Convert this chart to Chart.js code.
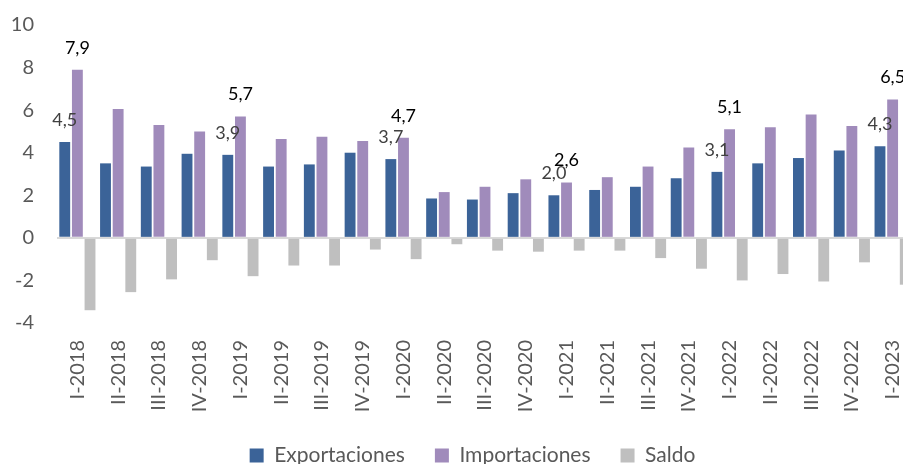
<!DOCTYPE html>
<html>
<head>
<meta charset="utf-8">
<script src="https://cdn.jsdelivr.net/npm/chart.js@4.4.0/dist/chart.umd.min.js"></script>
<style>
  html, body { margin: 0; padding: 0; background: #ffffff; overflow: hidden; }
  #wrap { width: 903px; height: 464px; overflow: hidden; position: relative; }
  #c { display: block; }
</style>
</head>
<body>
<div id="wrap"><canvas id="c" width="945" height="464"></canvas></div>
<script>
const categories = ["I-2018","II-2018","III-2018","IV-2018","I-2019","II-2019","III-2019","IV-2019",
  "I-2020","II-2020","III-2020","IV-2020","I-2021","II-2021","III-2021","IV-2021",
  "I-2022","II-2022","III-2022","IV-2022","I-2023"];
const exportaciones = [4.5, 3.5, 3.35, 3.95, 3.9, 3.35, 3.45, 4.0, 3.7, 1.85, 1.8, 2.1, 2.0, 2.25, 2.4, 2.8, 3.1, 3.5, 3.75, 4.1, 4.3];
const importaciones = [7.9, 6.05, 5.3, 5.0, 5.7, 4.65, 4.75, 4.55, 4.7, 2.15, 2.4, 2.75, 2.6, 2.85, 3.35, 4.25, 5.1, 5.2, 5.8, 5.25, 6.5];
const saldo = [-3.4, -2.55, -1.95, -1.05, -1.8, -1.3, -1.3, -0.55, -1.0, -0.3, -0.6, -0.65, -0.6, -0.6, -0.95, -1.45, -2.0, -1.7, -2.05, -1.15, -2.2];
const labeledIndices = [0, 4, 8, 12, 16, 20];
const yTicks = [10, 8, 6, 4, 2, 0, -2, -4];

const FONT = "Lato, 'Open Sans', sans-serif";

const valueLabels = {
  id: 'valueLabels',
  afterDatasetsDraw(chart) {
    const ctx = chart.ctx;
    ctx.save();
    ctx.font = "18px " + FONT;
    ctx.textAlign = 'center';
    ctx.textBaseline = 'middle';
    [0, 1].forEach(di => {
      const meta = chart.getDatasetMeta(di);
      ctx.fillStyle = di === 0 ? '#404040' : '#000000';
      labeledIndices.forEach(i => {
        const el = meta.data[i];
        const v = chart.data.datasets[di].data[i];
        const txt = v.toFixed(1).replace('.', ',');
        ctx.fillText(txt, el.x, el.y - 22);
      });
    });
    ctx.restore();
  }
};

new Chart(document.getElementById('c'), {
  type: 'bar',
  data: {
    labels: categories,
    datasets: [
      { label: 'Exportaciones', data: exportaciones, backgroundColor: '#3B6398' },
      { label: 'Importaciones', data: importaciones, backgroundColor: '#A08BBB' },
      { label: 'Saldo', data: saldo, backgroundColor: '#BFBFBF' }
    ]
  },
  options: {
    responsive: false,
    animation: false,
    devicePixelRatio: 1,
    layout: { padding: { top: 25, bottom: -12, left: 0, right: 0 } },
    datasets: { bar: { categoryPercentage: 0.93, barPercentage: 0.86 } },
    plugins: {
      legend: {
        position: 'bottom',
        labels: {
          boxWidth: 14, boxHeight: 14, padding: 30,
          color: '#595959',
          font: { family: FONT, size: 21 }
        }
      },
      tooltip: { enabled: false }
    },
    scales: {
      x: {
        grid: { display: false, drawTicks: false },
        border: { display: false },
        afterFit(scale) { scale.height = 92; },
        ticks: {
          color: '#595959', font: { family: FONT, size: 20 },
          minRotation: 90, maxRotation: 90, padding: 17, autoSkip: false
        }
      },
      y: {
        min: -4, max: 10,
        afterBuildTicks(scale) { scale.ticks = yTicks.map(v => ({ value: v })); },
        afterFit(scale) { scale.width = 57; scale.paddingTop = 10; scale.paddingBottom = 10; },
        grid: {
          drawTicks: false,
          color: c => (c.tick && c.tick.value === 0) ? '#D9D9D9' : 'rgba(0,0,0,0)',
          lineWidth: 2
        },
        border: { display: false },
        ticks: { color: '#595959', font: { family: FONT, size: 20 }, padding: 23 }
      },
      yR: {
        position: 'right',
        display: true,
        grid: { display: false, drawTicks: false },
        border: { display: false },
        ticks: { display: false },
        afterFit(scale) { scale.width = 32; scale.paddingTop = 0; scale.paddingBottom = 0; }
      }
    }
  },
  plugins: [valueLabels]
});
</script>
</body>
</html>
